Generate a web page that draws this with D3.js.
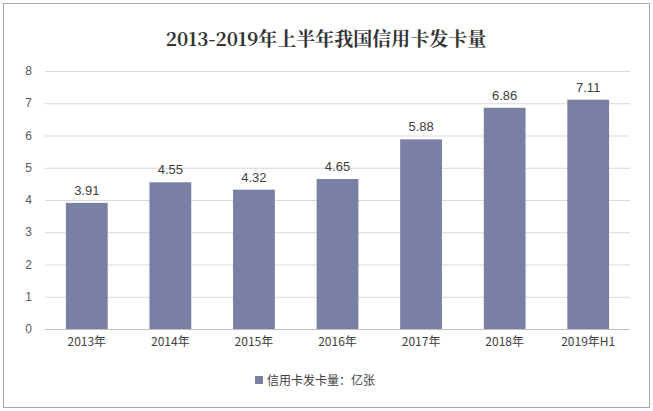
<!DOCTYPE html>
<html><head><meta charset="utf-8">
<script src="https://cdn.jsdelivr.net/npm/d3@7/dist/d3.min.js"></script>
<style>body{margin:0;background:#fff}</style></head>
<body><svg id="c" width="653" height="411"></svg>
<script>
const categories=["2013年","2014年","2015年","2016年","2017年","2018年","2019年H1"];
const values=[3.91,4.55,4.32,4.65,5.88,6.86,7.11];
const yTicks=[0,1,2,3,4,5,6,7,8];
const svg=d3.select("#c");
svg.append("rect").attr("x",3.5).attr("y",3.5).attr("width",646).attr("height",404).attr("fill","#fff").attr("stroke","#a6a6a6");
svg.append("text").attr("x",326).attr("y",46).attr("text-anchor","middle").attr("font-family","'Noto Serif CJK SC','Noto Sans CJK SC',serif").attr("font-weight","bold").attr("font-size",19).attr("fill","#333").text("2013-2019年上半年我国信用卡发卡量");
const x=d3.scaleBand().domain(categories).range([45,630]).paddingInner(0.5).paddingOuter(0.25);
const y=d3.scaleLinear().domain([0,8]).range([329,71]);
const g=svg.append("g");
yTicks.forEach(t=>{g.append("line").attr("x1",45).attr("x2",630).attr("y1",y(t)+.5).attr("y2",y(t)+.5).attr("stroke",t===0?"#bfbfbf":"#d9d9d9");
g.append("text").attr("x",32).attr("y",y(t)+4).attr("text-anchor","end").attr("font-family","Arial,'Liberation Sans'").attr("font-size",12).attr("fill","#595959").text(t);});
const xa=d3.axisBottom(x).tickSize(0);
const ax=svg.append("g").attr("transform","translate(0,329)").call(xa);
ax.select(".domain").remove();
ax.selectAll("text").attr("dy",14).attr("font-family","'Noto Sans CJK SC',sans-serif").attr("font-size",12).attr("fill","#404040");
g.selectAll(".b").data(values).join("rect").attr("x",(d,i)=>x(categories[i])).attr("width",x.bandwidth()).attr("y",d=>y(d)).attr("height",d=>y(0)-y(d)).attr("fill","#7a7fa6");
g.selectAll(".l").data(values).join("text").attr("x",(d,i)=>x(categories[i])+x.bandwidth()/2).attr("y",d=>y(d)-8).attr("text-anchor","middle").attr("font-family","Arial,'Liberation Sans'").attr("font-size",13).attr("fill","#404040").text(d=>d.toFixed(2));
svg.append("rect").attr("x",255).attr("y",376).attr("width",8).attr("height",8).attr("fill","#7a7fa6");
svg.append("text").attr("x",267).attr("y",385).attr("font-family","'Noto Sans CJK SC',sans-serif").attr("font-size",12).attr("fill","#404040").text("信用卡发卡量：亿张");
</script></body></html>
